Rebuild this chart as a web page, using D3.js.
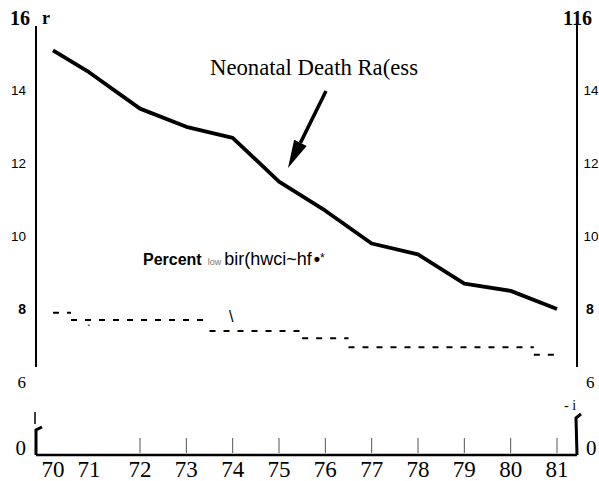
<!DOCTYPE html>
<html>
<head>
<meta charset="utf-8">
<script src="https://cdn.jsdelivr.net/npm/d3@7"></script>
<style>
  html, body { margin: 0; padding: 0; background: #fff; overflow: hidden; }
  svg { display: block; }
</style>
</head>
<body>
<svg id="chart" width="599" height="481"></svg>
<script>
// Neonatal death rates (per 1,000 live births) and percent low birthweight, 1970-1981
const years = [1970, 1971, 1972, 1973, 1974, 1975, 1976, 1977, 1978, 1979, 1980, 1981];
const neonatalRate = [15.1, 14.5, 13.5, 13.0, 12.7, 11.5, 10.7, 9.8, 9.5, 8.7, 8.5, 8.0];
const lowBirthweight = [7.9, 7.7, 7.7, 7.7, 7.4, 7.4, 7.2, 6.95, 6.95, 6.95, 6.95, 6.75];
const yearLabels = ["70", "71", "72", "73", "74", "75", "76", "77", "78", "79", "80", "81"];
const tickYears = [1972, 1973, 1974, 1975, 1976, 1977, 1978, 1979, 1980, 1981];
const yTicks = [16, 14, 12, 10, 8, 6];
const leftTickLabels = ["16", "14", "12", "10", "8", "6"];
const rightTickLabels = ["116", "14", "12", "10", "8", "6"];

const SERIF = "'Liberation Serif', 'Times New Roman', serif";
const SANS = "'Liberation Sans', Arial, sans-serif";

const svg = d3.select("#chart");

// The first two years sit closer together than the rest of the run
const x = d3.scaleLinear()
  .domain([1970, 1971, 1972, 1981])
  .range([53, 89, 140, 557]);

const y = d3.scaleLinear().domain([6, 16]).range([382, 17.5]);

const leftX = 36, rightX = 577, axisTop = 26, axisBottom = 367, baseY = 455;

// Vertical axes
svg.append("line").attr("x1", leftX).attr("x2", leftX).attr("y1", axisTop).attr("y2", axisBottom)
  .attr("stroke", "#000").attr("stroke-width", 2);
svg.append("line").attr("x1", rightX).attr("x2", rightX).attr("y1", axisTop - 3).attr("y2", axisBottom)
  .attr("stroke", "#000").attr("stroke-width", 2);

// Tick label styling per value
function tickStyle(sel, v) {
  if (v === 16) sel.attr("font-family", SERIF).attr("font-weight", "bold").attr("font-size", 20);
  else if (v === 8) sel.attr("font-family", SANS).attr("font-weight", "bold").attr("font-size", 14);
  else if (v === 6) sel.attr("font-family", SERIF).attr("font-size", 17);
  else sel.attr("font-family", SANS).attr("font-size", 13.5);
}

yTicks.forEach((v, i) => {
  const l = svg.append("text")
    .attr("x", v === 16 ? 30 : 26).attr("y", y(v)).attr("dy", "0.36em")
    .attr("text-anchor", "end").attr("fill", "#000")
    .text(leftTickLabels[i]);
  tickStyle(l, v);
  const r = svg.append("text")
    .attr("x", v === 16 ? 563 : (v === 8 || v === 6 ? 586 : 583.5)).attr("y", y(v)).attr("dy", "0.36em")
    .attr("fill", "#000")
    .text(rightTickLabels[i]);
  tickStyle(r, v);
});

svg.append("text").attr("x", 42).attr("y", y(16)).attr("dy", "0.36em")
  .attr("font-family", SERIF).attr("font-weight", "bold").attr("font-size", 18).text("r");

// Neonatal death rate line
const line = d3.line().x((d, i) => x(years[i])).y(d => y(d));
svg.append("path").datum(neonatalRate)
  .attr("d", line)
  .attr("fill", "none").attr("stroke", "#000").attr("stroke-width", 3.8)
  .attr("stroke-linejoin", "round");

// Percent low birthweight: dashed steps, one run per level
const runs = [];
lowBirthweight.forEach((v, i) => {
  const last = runs[runs.length - 1];
  if (last && last.v === v) last.end = years[i];
  else runs.push({ v, start: years[i], end: years[i] });
});
svg.append("g").selectAll("line").data(runs).join("line")
  .attr("x1", d => x(Math.max(years[0], d.start - 0.5)))
  .attr("x2", d => x(Math.min(years[years.length - 1], d.end + 0.5)))
  .attr("y1", d => y(d.v)).attr("y2", d => y(d.v))
  .attr("stroke", "#000").attr("stroke-width", 2)
  .attr("stroke-dasharray", "6,8");

// Annotations
svg.append("text").attr("x", 210).attr("y", 75)
  .attr("font-family", SERIF).attr("font-size", 23)
  .attr("textLength", 208).attr("lengthAdjust", "spacingAndGlyphs")
  .text("Neonatal Death Ra(ess");

// Arrow from the label down to the line
const arrow = { x1: 326, y1: 91, x2: 288, y2: 168 };
const ang = Math.atan2(arrow.y2 - arrow.y1, arrow.x2 - arrow.x1);
const headLen = 28, headW = 7;
const bx = arrow.x2 - headLen * Math.cos(ang), by = arrow.y2 - headLen * Math.sin(ang);
svg.append("line").attr("x1", arrow.x1).attr("y1", arrow.y1).attr("x2", bx).attr("y2", by)
  .attr("stroke", "#000").attr("stroke-width", 3.5);
svg.append("path")
  .attr("d", `M${arrow.x2},${arrow.y2}L${bx + headW * Math.sin(ang)},${by - headW * Math.cos(ang)}L${bx - headW * Math.sin(ang)},${by + headW * Math.cos(ang)}Z`)
  .attr("fill", "#000");

const pct = svg.append("text").attr("x", 143).attr("y", 265)
  .attr("font-family", SANS).attr("fill", "#000");
pct.append("tspan").attr("font-weight", "bold").attr("font-size", 16).text("Percent");
pct.append("tspan").attr("dx", 6).attr("font-size", 9).attr("fill", "#777").text("low");
pct.append("tspan").attr("dx", 3).attr("font-size", 18).text("bir(hwci~hf");
pct.append("tspan").attr("dx", 2).attr("font-size", 18).attr("font-weight", "bold").text("•");
pct.append("tspan").attr("font-size", 12).attr("dy", -3).text("*");

// Stray marks along the dashed series
svg.append("text").attr("x", 87).attr("y", 326).attr("font-family", SANS).attr("font-size", 13).text(".");
svg.append("text").attr("x", 229).attr("y", 322).attr("font-family", SANS).attr("font-size", 16).text("\\");

// Baseline axis with break marks
svg.append("line").attr("x1", leftX).attr("x2", rightX).attr("y1", baseY).attr("y2", baseY)
  .attr("stroke", "#000").attr("stroke-width", 2.5);
svg.append("path").attr("d", `M${leftX + 6},${baseY - 28}L${leftX},${baseY - 25}L${leftX},${baseY}`)
  .attr("fill", "none").attr("stroke", "#000").attr("stroke-width", 3);
svg.append("path").attr("d", `M${rightX + 4},${baseY - 41}L${rightX - 1},${baseY - 37}L${rightX},${baseY}`)
  .attr("fill", "none").attr("stroke", "#000").attr("stroke-width", 3);
svg.append("line").attr("x1", 35).attr("x2", 35).attr("y1", 412).attr("y2", 424)
  .attr("stroke", "#000").attr("stroke-width", 1.5);
svg.append("text").attr("x", 564).attr("y", 410).attr("font-family", SERIF).attr("font-size", 14).text("- i");

// Zero labels
svg.append("text").attr("x", 26).attr("y", 455).attr("text-anchor", "end")
  .attr("font-family", SERIF).attr("font-size", 21).text("0");
svg.append("text").attr("x", 586).attr("y", 455)
  .attr("font-family", SERIF).attr("font-size", 21).text("0");

// Year ticks and labels
svg.append("g").selectAll("line").data(tickYears).join("line")
  .attr("x1", d => x(d)).attr("x2", d => x(d))
  .attr("y1", baseY - 17).attr("y2", baseY - 2)
  .attr("stroke", "#555").attr("stroke-width", 1);

svg.append("g").selectAll("text").data(years).join("text")
  .attr("x", d => x(d)).attr("y", 477)
  .attr("text-anchor", "middle")
  .attr("font-family", SERIF).attr("font-size", 23)
  .text((d, i) => yearLabels[i]);
</script>
</body>
</html>
